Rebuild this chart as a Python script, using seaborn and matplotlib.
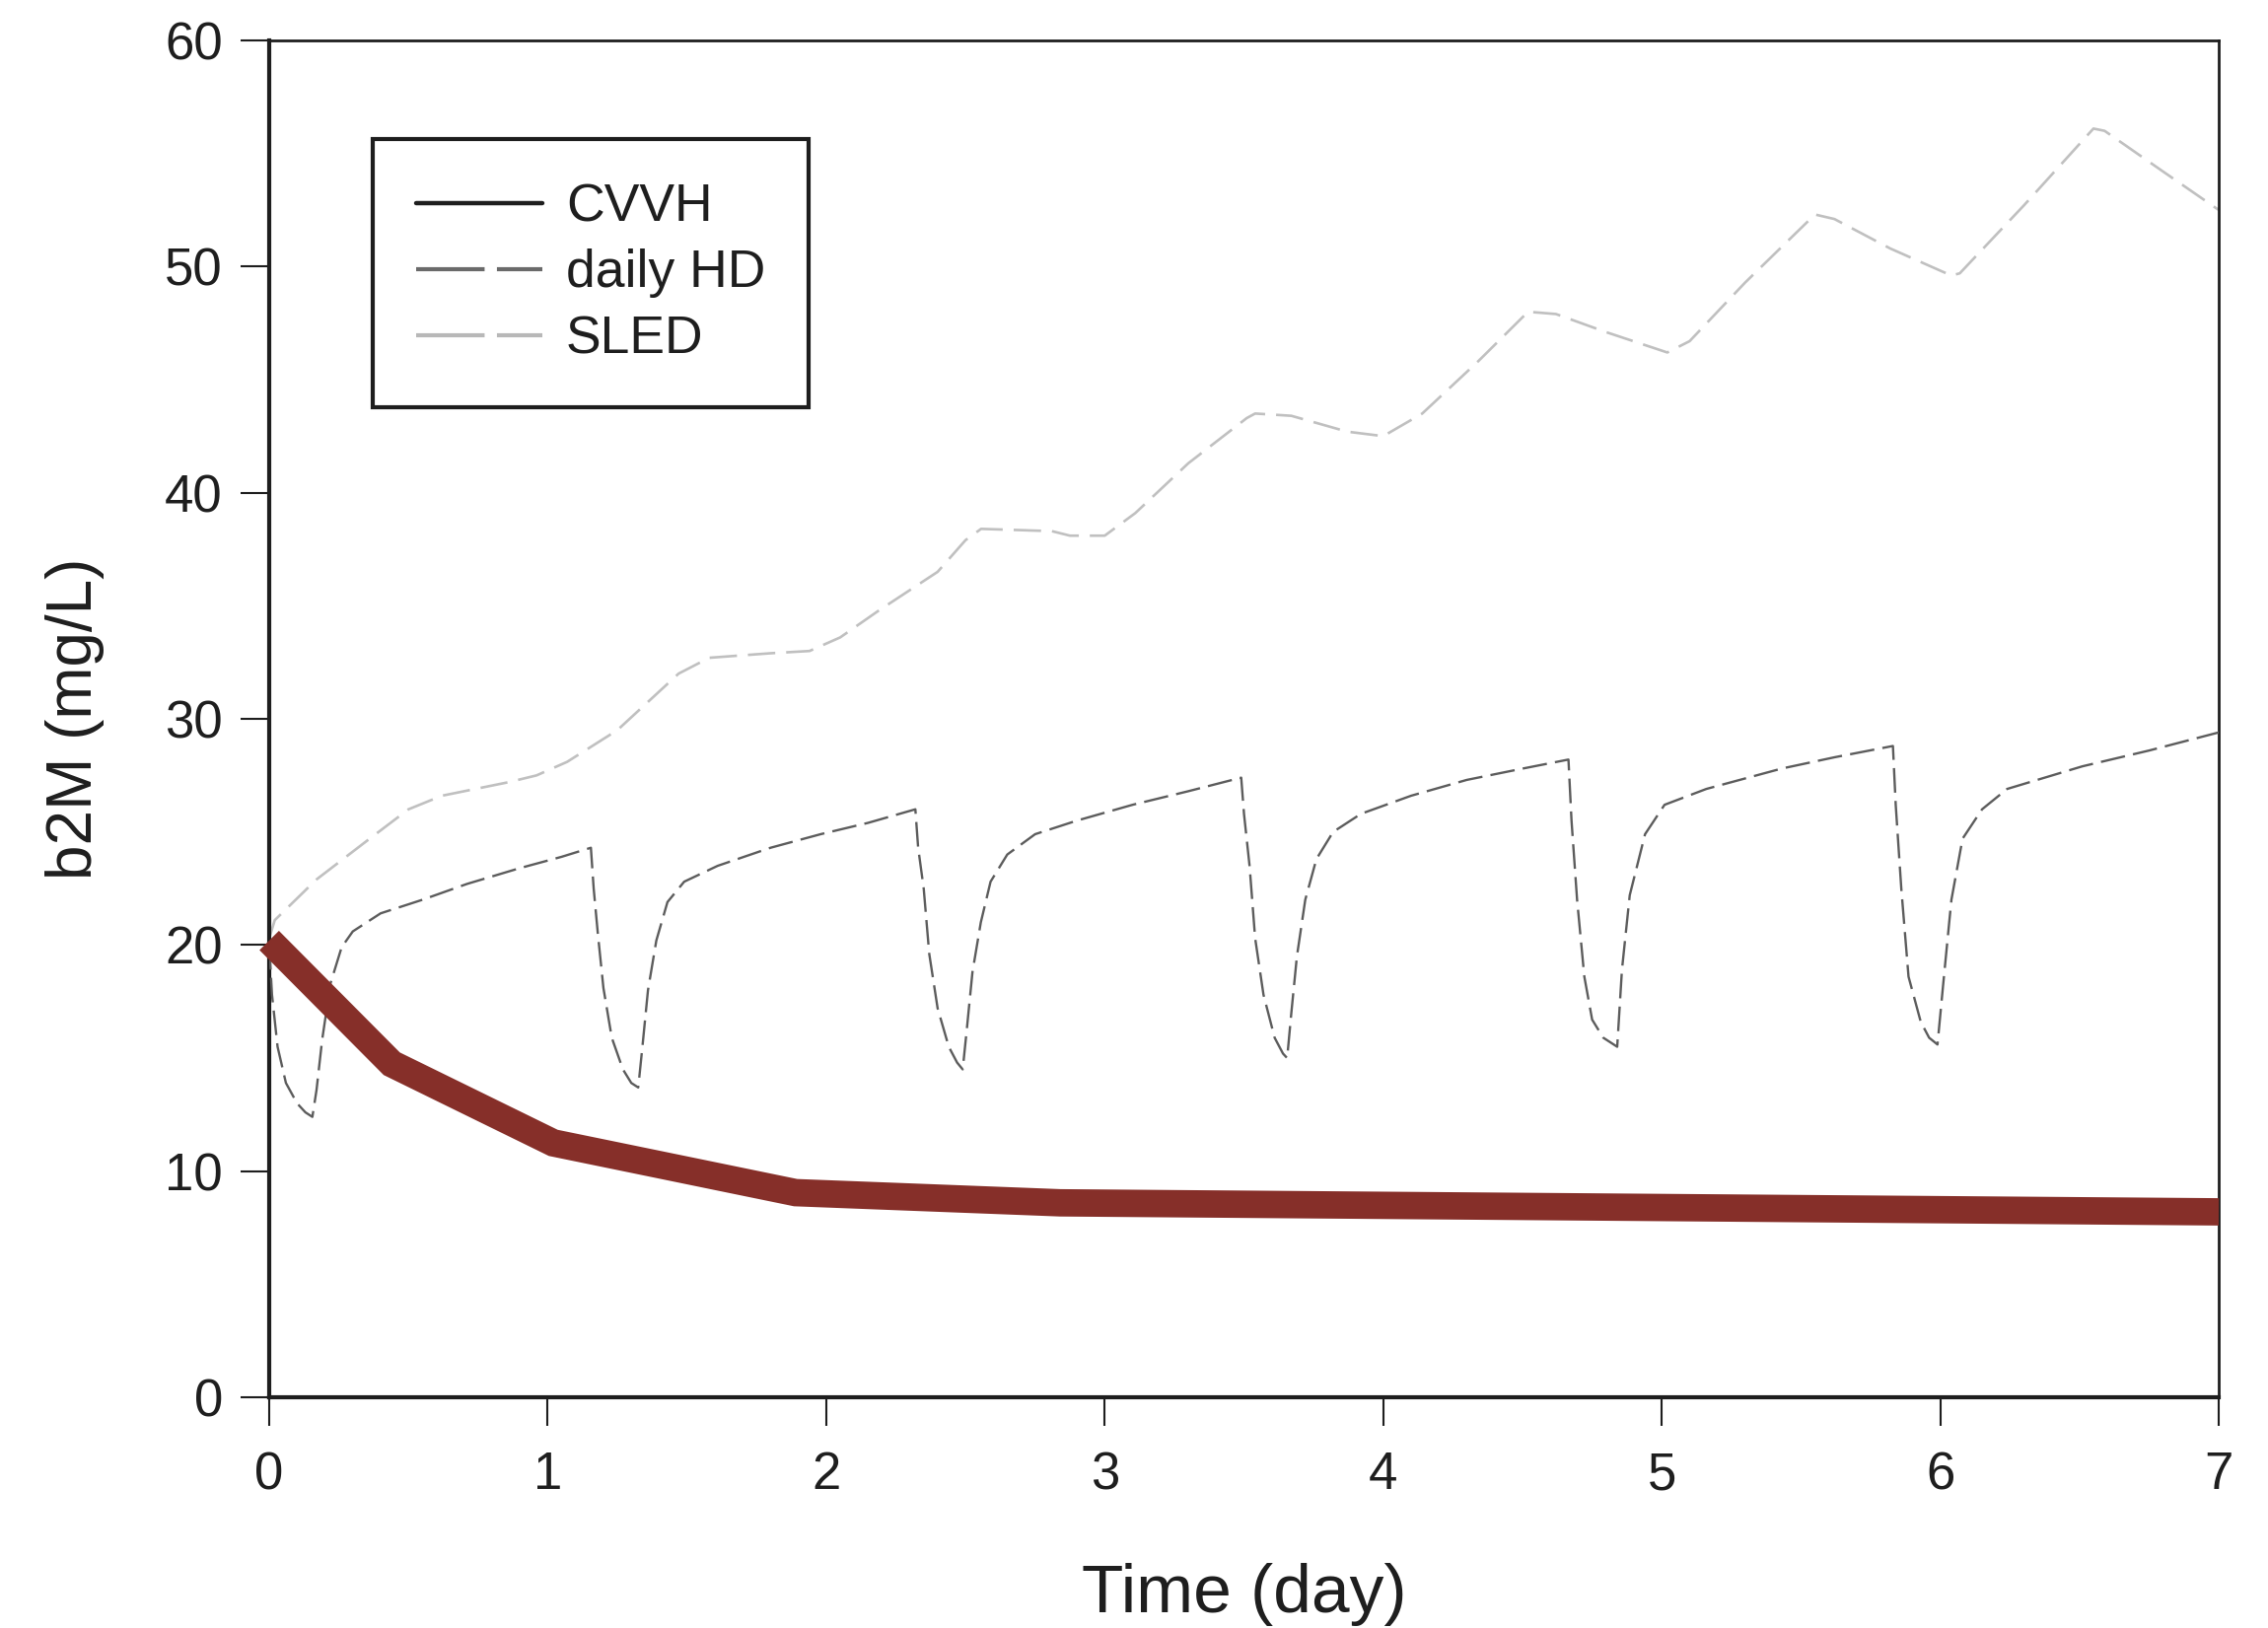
import numpy as np
import pandas as pd
import matplotlib
matplotlib.use("Agg")
import matplotlib.pyplot as plt
from matplotlib.lines import Line2D
import seaborn as sns

# ---------------- data ----------------
cvvh_t = [0.0, 0.44, 1.02, 1.89, 2.84, 7.0]
cvvh_v = [20.2, 14.75, 11.25, 9.05, 8.6, 8.2]

hd_t = [0.00, 0.01, 0.03, 0.06, 0.10, 0.13, 0.155, 0.17, 0.19, 0.22, 0.26, 0.30,
        0.40, 0.55, 0.71, 0.90, 1.05, 1.155,
        1.165, 1.18, 1.20, 1.23, 1.27, 1.30, 1.325,
        1.34, 1.36, 1.39, 1.43, 1.49, 1.61, 1.80, 1.98, 2.15, 2.32,
        2.33, 2.35, 2.37, 2.40, 2.44, 2.47, 2.49,
        2.505, 2.525, 2.555, 2.59, 2.65, 2.75, 2.90, 3.10, 3.30, 3.49,
        3.50, 3.52, 3.54, 3.57, 3.61, 3.64, 3.655,
        3.67, 3.69, 3.72, 3.76, 3.82, 3.92, 4.10, 4.30, 4.50, 4.665,
        4.676, 4.696, 4.722, 4.75, 4.79, 4.84,
        4.857, 4.885, 4.94, 5.01, 5.16, 5.43, 5.62, 5.83,
        5.84, 5.86, 5.886, 5.93, 5.96, 5.99,
        6.01, 6.04, 6.08, 6.15, 6.24, 6.51, 6.75, 7.00]
hd_v = [20.0, 17.8, 15.5, 13.9, 13.0, 12.6, 12.4, 13.6, 15.8, 18.3, 19.9, 20.6,
        21.4, 22.0, 22.7, 23.4, 23.9, 24.3,
        22.5, 20.5, 18.1, 15.9, 14.5, 13.9, 13.7,
        15.5, 18.0, 20.2, 21.9, 22.8, 23.5, 24.3, 24.9, 25.4, 26.0,
        24.3, 22.5, 19.6, 17.2, 15.5, 14.8, 14.5,
        16.3, 18.8, 21.0, 22.8, 24.0, 24.9, 25.5, 26.2, 26.8, 27.4,
        25.8, 23.5, 20.3, 17.8, 15.9, 15.2, 15.0,
        17.0, 19.5, 22.0, 23.8, 25.0, 25.8, 26.6, 27.3, 27.8, 28.2,
        25.5, 22.0, 18.6, 16.7, 15.9, 15.5,
        18.9, 22.2, 24.9, 26.2, 26.9, 27.8, 28.3, 28.8,
        26.2, 22.5, 18.6, 16.6, 15.9, 15.6,
        18.2, 22.0, 24.7, 26.0, 26.9, 27.9, 28.6, 29.4]

sled_t = [0.00, 0.02, 0.17, 0.35, 0.50, 0.62, 0.86, 0.96, 1.07, 1.25, 1.47, 1.58,
          1.80, 1.94, 2.05, 2.19, 2.40, 2.50, 2.556, 2.81, 2.875, 3.00, 3.11, 3.30,
          3.51, 3.54, 3.67, 3.87, 4.00, 4.14, 4.34, 4.52, 4.62, 4.80, 5.02, 5.10,
          5.30, 5.55, 5.62, 5.82, 6.04, 6.07, 6.30, 6.55, 6.59, 6.80, 7.00]
sled_v = [20.3, 21.1, 22.9, 24.6, 26.0, 26.6, 27.2, 27.5, 28.1, 29.5, 32.0, 32.7,
          32.9, 33.0, 33.6, 34.8, 36.5, 37.9, 38.4, 38.3, 38.1, 38.1, 39.1, 41.3,
          43.3, 43.5, 43.4, 42.7, 42.5, 43.5, 45.8, 48.0, 47.9, 47.1, 46.2, 46.7,
          49.3, 52.3, 52.1, 50.8, 49.6, 49.7, 52.7, 56.1, 56.0, 54.2, 52.5]

series_labels = ["CVVH", "daily HD", "SLED"]
x_ticks = [0, 1, 2, 3, 4, 5, 6, 7]
y_ticks = [0, 10, 20, 30, 40, 50, 60]
x_label = "Time (day)"
y_label = "b2M (mg/L)"

# ---------------- style ----------------
sns.set_theme(style="white")
plt.rcParams['font.family'] = ['Liberation Sans', 'DejaVu Sans']
plt.rcParams['lines.scale_dashes'] = False

fig = plt.figure(figsize=(23, 16.51), dpi=100)
ax = fig.add_axes([0.1187, 0.1417, 0.8596, 0.8335])

df_hd = pd.DataFrame({"t": hd_t, "v": hd_v})
df_sled = pd.DataFrame({"t": sled_t, "v": sled_v})
df_cvvh = pd.DataFrame({"t": cvvh_t, "v": cvvh_v})

sns.lineplot(data=df_sled, x="t", y="v", ax=ax, sort=False, estimator=None,
             color="#c0c0c0", linewidth=1.9, linestyle=(0, (20, 8)), zorder=2)
sns.lineplot(data=df_hd, x="t", y="v", ax=ax, sort=False, estimator=None,
             color="#5c5c5c", linewidth=1.7, linestyle=(0, (18, 6)), zorder=3)
sns.lineplot(data=df_cvvh, x="t", y="v", ax=ax, sort=False, estimator=None,
             color="#862F29", linewidth=20, solid_joinstyle="miter",
             solid_capstyle="butt", zorder=4, clip_on=False)

ax.set_xlim(0, 7)
ax.set_ylim(0, 60)
ax.set_xticks(x_ticks)
ax.set_yticks(y_ticks)
ax.set_xticklabels([str(v) for v in x_ticks])
ax.set_yticklabels([str(v) for v in y_ticks])

for side in ["left", "bottom"]:
    ax.spines[side].set_linewidth(3.0)
    ax.spines[side].set_color("#1e1e1e")
for side in ["top", "right"]:
    ax.spines[side].set_linewidth(2.0)
    ax.spines[side].set_color("#1e1e1e")
    ax.spines[side].set_visible(True)

ax.tick_params(axis="both", which="major", bottom=True, left=True,
               top=False, right=False, direction="out", length=21, width=1.5,
               color="#1e1e1e", labelsize=38, labelcolor="#1e1e1e")
ax.tick_params(axis="x", pad=18)
ax.tick_params(axis="y", pad=13)

ax.set_xlabel(x_label, fontsize=50, color="#1e1e1e")
ax.set_ylabel(y_label, fontsize=46, color="#1e1e1e")
ax.xaxis.set_label_coords(0.5, -0.122)
ax.yaxis.set_label_coords(-0.0845, 0.5)

handles = [
    Line2D([], [], color="#1e1e1e", linewidth=3.2, linestyle="-"),
    Line2D([], [], color="#6a6a6a", linewidth=3.0, linestyle=(0, (50, 9))),
    Line2D([], [], color="#b8b8b8", linewidth=3.0, linestyle=(0, (50, 9))),
]
leg = ax.legend(handles, series_labels, loc="upper left",
                bbox_to_anchor=(0.053, 0.927), borderaxespad=0,
                fontsize=38.5, frameon=True, fancybox=False,
                handlelength=2.4, handletextpad=0.45, labelspacing=0.32,
                borderpad=0.82)
leg.get_frame().set_edgecolor("#1e1e1e")
leg.get_frame().set_linewidth(3.0)
leg.get_frame().set_facecolor("white")
leg.get_frame().set_alpha(1)
for txt in leg.get_texts():
    txt.set_color("#1e1e1e")

fig.savefig("out.png", dpi=100, facecolor="white")
